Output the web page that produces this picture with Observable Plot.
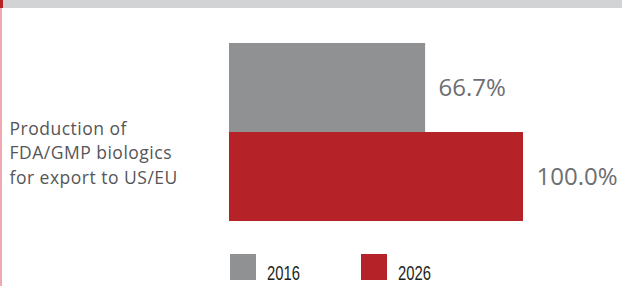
<!DOCTYPE html>
<html>
<head>
<meta charset="utf-8">
<script src="https://cdn.jsdelivr.net/npm/d3@7"></script>
<script src="https://cdn.jsdelivr.net/npm/@observablehq/plot@0.6"></script>
<style>
  html, body { margin: 0; padding: 0; background: #fff; }
  #wrap { position: relative; width: 622px; height: 286px; overflow: hidden; background: #fff; }
  #band { position: absolute; left: 0; top: 0; width: 622px; height: 8px; background: #d2d3d5; }
  #bandRed { position: absolute; left: 0; top: 0; width: 3px; height: 8px; background: #b52329; }
  #vline { position: absolute; left: 0; top: 8px; width: 2px; height: 278px; background: #eca9b0; }
  #chart { position: absolute; left: 0; top: 0; }
  #legend { position: absolute; left: 0; top: 240px; width: 622px; height: 46px; }
  .item { position: absolute; top: 14px; height: 26px; }
  .sw { position: absolute; left: 0; top: 0; width: 26px; height: 26px; }
  .lab { position: absolute; left: 37px; top: 10px; font-family: "Liberation Sans", sans-serif; font-size: 19.5px; color: #231f20; white-space: nowrap; line-height: 19px; transform: scaleX(0.76); transform-origin: 0 0; }
  g[aria-label="fy-axis tick label"] text { letter-spacing: 0.5px; }
</style>
</head>
<body>
<div id="wrap">
  <div id="chart"></div>
  <div id="band"></div>
  <div id="bandRed"></div>
  <div id="vline"></div>
  <div id="legend"></div>
</div>
<script>
const years = ["2016", "2026"];
const values = [66.7, 100.0];
const valueLabels = ["66.7%", "100.0%"];
const colors = ["#909193", "#b52329"];
const category = "Production of\nFDA/GMP biologics\nfor export to US/EU";

const data = years.map((y, i) => ({ year: y, value: values[i], label: valueLabels[i], category }));

const chart = Plot.plot({
  width: 622,
  height: 240,
  marginLeft: 229,
  marginRight: 99,
  marginTop: 43,
  marginBottom: 19,
  style: { fontFamily: "'Open Sans', sans-serif", background: "transparent" },
  x: { domain: [0, 100], axis: null },
  y: { domain: years, padding: 0, axis: null },
  fy: { domain: [category], padding: 0, axis: null, label: null },
  color: { domain: years, range: colors },
  marks: [
    Plot.barX(data, { x: "value", y: "year", fy: "category", fill: "year" }),
    Plot.text(data, { x: "value", y: "year", fy: "category", text: "label", textAnchor: "start", dx: 13, fontSize: 24, fill: "#6d6e71" }),
    Plot.axisFy({ anchor: "left", label: null, tickSize: 0, tickPadding: 0, textAnchor: "start", dx: -220, dy: 19, fontSize: 17.5, lineHeight: 1.4, fill: "#555658", stroke: "#555658", strokeWidth: 0.35, fontFamily: "'Open Sans', sans-serif" })
  ]
});
document.getElementById("chart").appendChild(chart);

const legend = document.getElementById("legend");
const legendLeft = [230, 361];
years.forEach((y, i) => {
  const item = document.createElement("div");
  item.className = "item";
  item.style.left = legendLeft[i] + "px";
  const sw = document.createElement("div");
  sw.className = "sw";
  sw.style.background = colors[i];
  const lab = document.createElement("div");
  lab.className = "lab";
  lab.textContent = y;
  item.appendChild(sw);
  item.appendChild(lab);
  legend.appendChild(item);
});
</script>
</body>
</html>
